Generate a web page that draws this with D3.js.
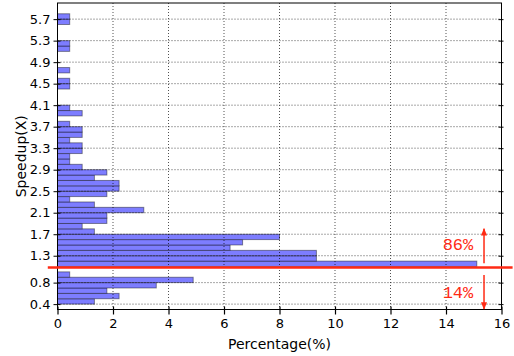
<!DOCTYPE html>
<html>
<head>
<meta charset="utf-8">
<script src="https://cdn.jsdelivr.net/npm/d3@7/dist/d3.min.js"></script>
<style>
  html, body { margin: 0; padding: 0; background: #fff; }
  svg { display: block; }
</style>
</head>
<body>
<svg id="chart" width="514" height="356"></svg>
<script>
// Speedup bins (lower edge, width 0.1)
const speedupBins = [0.4,0.5,0.6,0.7,0.8,0.9,1.0,1.1,1.2,1.3,1.4,1.5,1.6,1.7,1.8,1.9,2.0,2.1,2.2,2.3,2.4,2.5,2.6,2.7,2.8,2.9,3.0,3.1,3.2,3.3,3.4,3.5,3.6,3.7,3.8,3.9,4.0,4.1,4.2,4.3,4.4,4.5,4.6,4.7,4.8,4.9,5.0,5.1,5.2,5.3,5.4,5.5,5.6,5.7];
// Percentage of cases in each bin
const percentages = [1.33,2.22,1.78,3.56,4.89,0.44,0,15.11,9.33,9.33,6.22,6.67,8.00,1.33,0.89,1.78,1.78,3.11,1.33,0.44,1.78,2.22,2.22,1.33,1.78,0.89,0.44,0.44,0.89,0.89,0.44,0.89,0.89,0.44,0,0.89,0.44,0,0,0,0.44,0.44,0,0.44,0,0,0,0.44,0.44,0,0,0,0.44,0.44];
const binWidth = 0.1;
const yTickValues = [0.4,0.8,1.3,1.7,2.1,2.5,2.9,3.3,3.7,4.1,4.5,4.9,5.3,5.7];
const xTickValues = [0,2,4,6,8,10,12,14,16];
const thresholdValue = 1.08;
const aboveLabel = "86%";
const belowLabel = "14%";

const svg = d3.select("#chart");
const x = d3.scaleLinear().domain([0,16]).range([57.5,501.5]);
const y = d3.scaleLinear().domain([0.3,6.0]).range([309.5,3]);

const data = speedupBins.map((b,i)=>({bin:b, pct:percentages[i]}));

// bars
svg.append("g").selectAll("rect").data(data.filter(d=>d.pct>0)).join("rect")
  .attr("x", x(0))
  .attr("y", d=>y(d.bin+binWidth))
  .attr("width", d=>x(d.pct)-x(0))
  .attr("height", d=>y(d.bin)-y(d.bin+binWidth))
  .attr("fill","#7d7dff")
  .attr("stroke","rgba(0,0,0,0.42)")
  .attr("stroke-width",1);

// grid (on top)
const grid = svg.append("g").attr("stroke","#000").attr("stroke-width",0.8)
  .attr("stroke-dasharray","1,2").attr("opacity",0.85);
grid.selectAll("line.v").data(xTickValues.slice(1,-1)).join("line")
  .attr("x1",d=>x(d)).attr("x2",d=>x(d)).attr("y1",y(6.0)).attr("y2",y(0.3));
grid.selectAll("line.h").data(yTickValues).join("line")
  .attr("x1",x(0)).attr("x2",x(16)).attr("y1",d=>y(d)).attr("y2",d=>y(d));

// axes
const font = "DejaVu Sans, sans-serif";
const xAxis = svg.append("g").attr("transform",`translate(0,${y(0.3)})`)
  .call(d3.axisBottom(x).tickValues(xTickValues).tickFormat(d3.format("d")).tickSizeInner(5).tickSizeOuter(0).tickPadding(4));
xAxis.selectAll(".tick line").attr("y1",-3).attr("stroke-width",1.2);
const yAxis = svg.append("g").attr("transform",`translate(${x(0)},0)`)
  .call(d3.axisLeft(y).tickValues(yTickValues).tickFormat(d3.format(".1f")).tickSizeInner(4).tickSizeOuter(0).tickPadding(3));
yAxis.selectAll(".tick line").attr("x1",3).attr("x2",-4);
const yAxisR = svg.append("g").attr("transform",`translate(${x(16)},0)`)
  .call(d3.axisRight(y).tickValues(yTickValues).tickFormat("").tickSizeInner(3).tickSizeOuter(0));
yAxisR.selectAll(".tick line").attr("x1",-3).attr("x2",2);
[xAxis,yAxis,yAxisR].forEach(a=>{
  a.select(".domain").remove();
  a.selectAll("text").attr("font-family",font).attr("font-size",13).attr("fill","#000");
});

// frame
svg.append("rect").attr("x",x(0)).attr("y",y(6.0)).attr("width",x(16)-x(0)).attr("height",y(0.3)-y(6.0))
  .attr("fill","none").attr("stroke","#000").attr("stroke-width",1);

// axis labels
svg.append("text").attr("x",(x(0)+x(16))/2).attr("y",349).attr("text-anchor","middle")
  .attr("font-family",font).attr("font-size",14).text("Percentage(%)");
svg.append("text").attr("transform",`translate(26,${(y(0.3)+y(6.0))/2}) rotate(-90)`).attr("text-anchor","middle")
  .attr("font-family",font).attr("font-size",14).text("Speedup(X)");

// threshold line and annotations
const red = "#ff2a14";
svg.append("line").attr("x1",x(-0.35)).attr("x2",x(16.4)).attr("y1",y(thresholdValue)).attr("y2",y(thresholdValue))
  .attr("stroke",red).attr("stroke-width",2.5);

const defs = svg.append("defs");
defs.append("marker").attr("id","ah").attr("viewBox","0 0 10 10").attr("refX",9).attr("refY",5)
  .attr("markerWidth",5).attr("markerHeight",5).attr("markerUnits","strokeWidth").attr("orient","auto")
  .append("path").attr("d","M0,1 L10,5 L0,9 Z").attr("fill",red);
const arrowX = x(15.37);
svg.append("line").attr("x1",arrowX).attr("x2",arrowX).attr("y1",y(1.16)).attr("y2",y(1.8))
  .attr("stroke",red).attr("stroke-width",1.5).attr("marker-end","url(#ah)");
svg.append("line").attr("x1",arrowX).attr("x2",arrowX).attr("y1",y(0.94)).attr("y2",y(0.31))
  .attr("stroke",red).attr("stroke-width",1.5).attr("marker-end","url(#ah)");

const monoFont = "Liberation Mono, monospace";
svg.append("text").attr("x",x(13.88)).attr("y",y(1.405)).attr("font-family",monoFont).attr("font-size",17)
  .attr("fill",red).text(aboveLabel);
svg.append("text").attr("x",x(13.88)).attr("y",y(0.52)).attr("font-family",monoFont).attr("font-size",17)
  .attr("fill",red).text(belowLabel);
</script>
</body>
</html>
